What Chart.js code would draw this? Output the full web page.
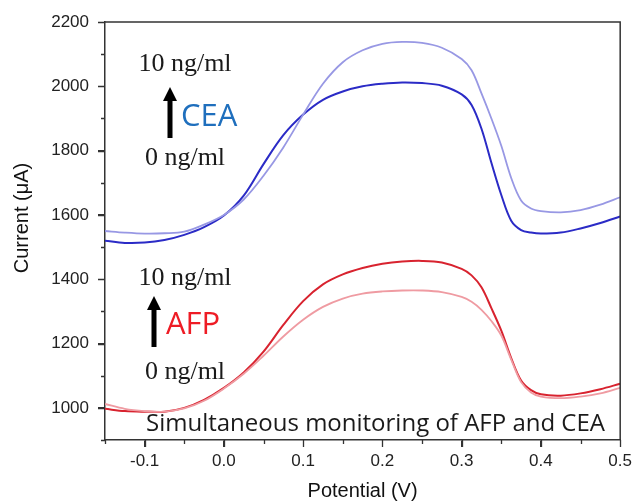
<!DOCTYPE html>
<html>
<head>
<meta charset="utf-8">
<script src="https://cdn.jsdelivr.net/npm/chart.js@4.4.0/dist/chart.umd.min.js"></script>
<style>
  html, body { margin: 0; padding: 0; background: #fff; }
  #wrap { width: 636px; height: 504px; }
</style>
</head>
<body>
<div id="wrap"><canvas id="cv" width="636" height="504"></canvas></div>
<script>
// Potential (V)
const potential = [-0.15, -0.125, -0.1, -0.075, -0.05, -0.025, 0, 0.025, 0.05, 0.075, 0.1, 0.125, 0.15, 0.175, 0.2, 0.225, 0.25, 0.275, 0.3, 0.3125, 0.325, 0.3375, 0.35, 0.3625, 0.375, 0.3875, 0.4, 0.425, 0.45, 0.475, 0.5];

// CEA curves (µA)
const ceaDark = [1520, 1513, 1514, 1522, 1538, 1562, 1598, 1660, 1758, 1848, 1912, 1958, 1984, 2000, 2008, 2012, 2010, 2002, 1975, 1942, 1868, 1762, 1662, 1582, 1553, 1545, 1542, 1545, 1558, 1575, 1595];
const ceaLight = [1550, 1545, 1542, 1543, 1548, 1570, 1600, 1648, 1722, 1810, 1912, 2008, 2075, 2112, 2132, 2138, 2135, 2120, 2085, 2050, 1978, 1900, 1815, 1715, 1645, 1620, 1612, 1608, 1615, 1632, 1655];

// AFP curves (µA)
const afpDark = [997, 990, 988, 988, 1000, 1025, 1062, 1110, 1175, 1258, 1332, 1384, 1415, 1435, 1448, 1455, 1457, 1452, 1432, 1412, 1375, 1310, 1240, 1155, 1085, 1055, 1042, 1038, 1045, 1058, 1075];
const afpLight = [1012, 997, 990, 988, 998, 1022, 1060, 1106, 1162, 1222, 1274, 1314, 1340, 1355, 1362, 1365, 1365, 1360, 1345, 1330, 1305, 1270, 1225, 1150, 1080, 1048, 1035, 1030, 1035, 1045, 1062];

// Tick labels
const xTicks = [-0.1, 0, 0.1, 0.2, 0.3, 0.4, 0.5];
const xMinor = [-0.15, -0.05, 0.05, 0.15, 0.25, 0.35, 0.45];
const yTicks = [1000, 1200, 1400, 1600, 1800, 2000, 2200];
const yMinor = [900, 1100, 1300, 1500, 1700, 1900, 2100];

const toPoints = arr => arr.map((v, i) => ({ x: potential[i], y: v }));

const axisColor = '#333';

// Box, ticks, arrows and labels
const decor = {
    id: 'decor',
    afterDraw(chart) {
        const ctx = chart.ctx;
        const a = chart.chartArea;
        const xs = chart.scales.x;
        const ys = chart.scales.y;
        ctx.save();

        // frame top + right
        ctx.strokeStyle = axisColor;
        ctx.lineWidth = 1.5;
        ctx.beginPath();
        ctx.moveTo(a.left, a.top);
        ctx.lineTo(a.right, a.top);
        ctx.lineTo(a.right, a.bottom);
        ctx.stroke();

        // major + minor ticks (outside)
        ctx.lineWidth = 1.3;
        ctx.beginPath();
        const xTick = (v, len) => {
            const px = Math.round(xs.getPixelForValue(v)) + 0.5;
            ctx.moveTo(px, a.bottom);
            ctx.lineTo(px, a.bottom + len);
        };
        const yTick = (v, len) => {
            const py = Math.round(ys.getPixelForValue(v)) + 0.5;
            ctx.moveTo(a.left, py);
            ctx.lineTo(a.left - len, py);
        };
        xTicks.forEach(v => xTick(v, 7));
        xMinor.forEach(v => xTick(v, 4));
        yTicks.forEach(v => yTick(v, 7));
        yMinor.forEach(v => yTick(v, 4));
        ctx.stroke();

        // y axis title
        ctx.save();
        ctx.translate(22, 218);
        ctx.rotate(-Math.PI / 2);
        ctx.fillStyle = '#111';
        ctx.font = '20px "Liberation Sans"';
        ctx.textAlign = 'center';
        ctx.textBaseline = 'middle';
        ctx.fillText('Current (μA)', 0, 0);
        ctx.restore();

        // arrows
        const arrow = (x, yTop, yBot) => {
            ctx.fillStyle = '#000';
            ctx.fillRect(x - 2.5, yTop + 12, 5, yBot - yTop - 12);
            ctx.beginPath();
            ctx.moveTo(x, yTop);
            ctx.lineTo(x - 7, yTop + 14);
            ctx.lineTo(x + 7, yTop + 14);
            ctx.closePath();
            ctx.fill();
        };
        arrow(170, 87, 138);
        arrow(154, 296, 347);

        // concentration labels
        ctx.fillStyle = '#1a1a1a';
        ctx.font = '26px "Liberation Serif"';
        ctx.textAlign = 'center';
        ctx.textBaseline = 'alphabetic';
        ctx.fillText('10 ng/ml', 185, 71);
        ctx.fillText('0 ng/ml', 185, 165);
        ctx.fillText('10 ng/ml', 185, 285);
        ctx.fillText('0 ng/ml', 185, 379);

        ctx.textAlign = 'left';
        ctx.font = '31px "Open Sans"';
        ctx.fillStyle = '#1f6fbd';
        ctx.fillText('CEA', 181, 126);
        ctx.fillStyle = '#ee1c25';
        ctx.fillText('AFP', 166, 334);

        ctx.fillStyle = '#1a1a1a';
        ctx.font = '24px "Open Sans"';
        ctx.fillText('Simultaneous monitoring of AFP and CEA', 146, 431);

        ctx.restore();
    }
};

const ctx = document.getElementById('cv').getContext('2d');
new Chart(ctx, {
    type: 'line',
    data: {
        datasets: [
            { label: 'CEA 10 ng/ml', data: toPoints(ceaLight), borderColor: '#9898e4', borderWidth: 1.8 },
            { label: 'CEA 0 ng/ml', data: toPoints(ceaDark), borderColor: '#2b2bc6', borderWidth: 2 },
            { label: 'AFP 0 ng/ml', data: toPoints(afpLight), borderColor: '#ef9ba2', borderWidth: 1.8 },
            { label: 'AFP 10 ng/ml', data: toPoints(afpDark), borderColor: '#d8232f', borderWidth: 2 }
        ]
    },
    options: {
        responsive: false,
        animation: false,
        events: [],
        elements: {
            point: { radius: 0 },
            line: { tension: 0.35, fill: false }
        },
        layout: { padding: { left: 0, top: 22, right: 13, bottom: 0 } },
        plugins: {
            legend: { display: false },
            tooltip: { enabled: false }
        },
        scales: {
            x: {
                type: 'linear',
                min: -0.15,
                max: 0.5,
                afterBuildTicks: s => { s.ticks = xTicks.map(v => ({ value: v })); },
                afterFit: s => { s.height = 64; },
                border: { color: axisColor, width: 1.5 },
                grid: { drawOnChartArea: false, tickLength: 7, color: axisColor },
                ticks: {
                    padding: 4,
                    color: '#222',
                    font: { family: '"Liberation Sans"', size: 17 },
                    callback: v => v.toFixed(1)
                },
                title: {
                    display: true,
                    text: 'Potential (V)',
                    color: '#111',
                    font: { family: '"Liberation Sans"', size: 20 },
                    padding: { top: 0, bottom: 1 }
                }
            },
            y: {
                min: 900,
                max: 2200,
                afterBuildTicks: s => { s.ticks = yTicks.map(v => ({ value: v })); },
                afterFit: s => { s.width = 105; },
                border: { color: axisColor, width: 1.5 },
                grid: { drawOnChartArea: false, tickLength: 7, color: axisColor },
                ticks: {
                    padding: 9,
                    color: '#222',
                    font: { family: '"Liberation Sans"', size: 17 },
                    callback: v => String(v)
                }
            }
        }
    },
    plugins: [decor]
});
</script>
</body>
</html>
